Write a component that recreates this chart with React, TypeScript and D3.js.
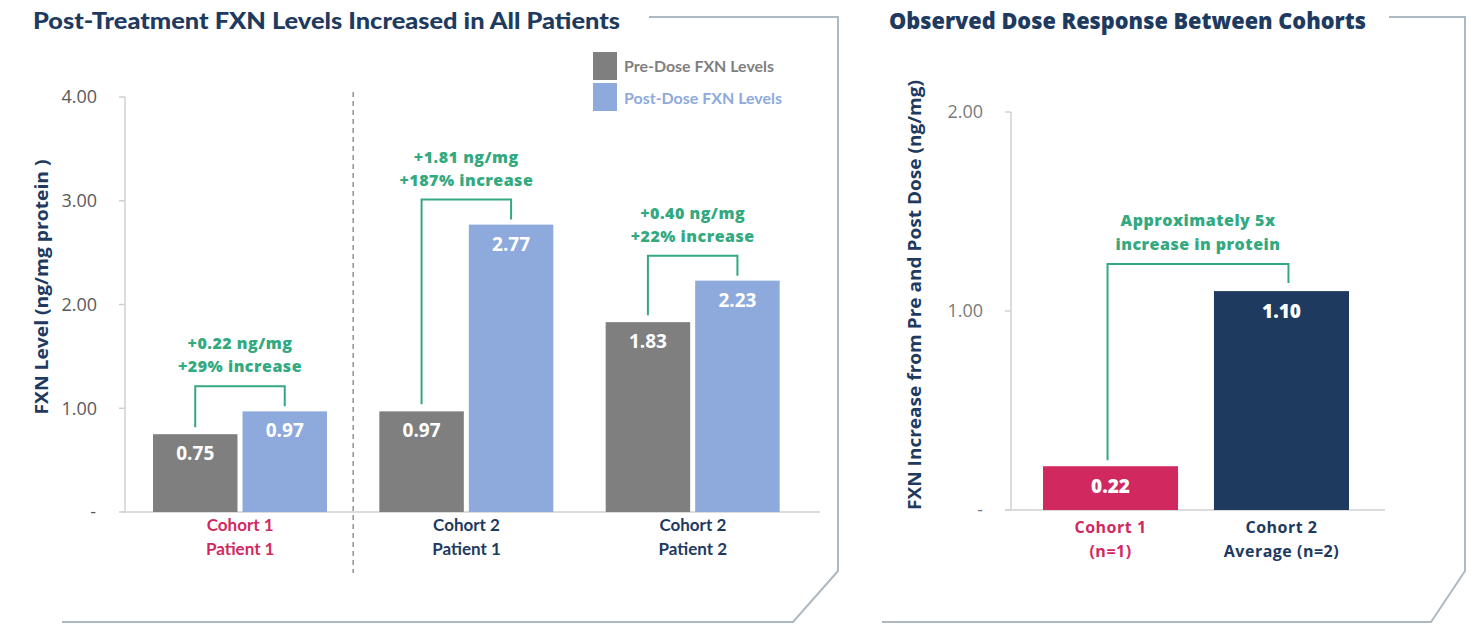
import * as d3 from "d3";

// left chart data
const patients = ["Cohort 1|Patient 1", "Cohort 2|Patient 1", "Cohort 2|Patient 2"];
const preDose = [0.75, 0.97, 1.83];
const postDose = [0.97, 2.77, 2.23];
const deltaLabels = ["+0.22 ng/mg", "+1.81 ng/mg", "+0.40 ng/mg"];
const pctLabels = ["+29% increase", "+187% increase", "+22% increase"];
const leftTicks = [4, 3, 2, 1, 0];

// right chart data
const cohorts = ["Cohort 1|(n=1)", "Cohort 2|Average (n=2)"];
const increase = [0.22, 1.1];
const rightTicks = [2, 1, 0];
const rightNote = ["Approximately 5x", "increase in protein"];

const NAVY = "#1e3a5f";
const CRIMSON = "#d1295f";
const GRAY = "#7f7f7f";
const BLUE = "#8eaadc";
const GREEN = "#33a97f";
const FRAME = "#adb9c3";
const AXIS = "#d0d0d0";
const SANS = "'Open Sans', Lato, sans-serif";
const COND = "Lato, 'Open Sans', sans-serif";

const fmt = d3.format(".2f");
const tickFmt = (v: number) => (v === 0 ? "-" : fmt(v));

const App = () => {
  // ---- left chart scales
  const yL = d3.scaleLinear().domain([0, 4]).range([512, 97]);
  const xL = d3.scaleBand().domain(patients).range([127, 806]).padding(0);
  const inner = d3.scaleBand().domain(["pre", "post"]).range([26, 200]).paddingInner(0.056);

  // ---- right chart scales
  const yR = d3.scaleLinear().domain([0, 2]).range([510, 112]);
  const xR = d3.scaleBand().domain(cohorts).range([1043, 1349]).paddingInner(0.21).paddingOuter(0);

  const divX = ((xL(patients[0]) as number) + inner("post")! + inner.bandwidth() + (xL(patients[1]) as number) + inner("pre")!) / 2;

  return (
    <svg width={1477} height={637} style={{ position: "absolute", left: 0, top: 0, background: "#fff" }}>
      {/* frames */}
      <path d="M649,17 H838 V571 L793,622 H62" fill="none" stroke={FRAME} strokeWidth={2} />
      <path d="M1389,17 H1465 V571 L1431,622 H882" fill="none" stroke={FRAME} strokeWidth={2} />

      {/* titles */}
      <text x={33} y={29} fontFamily={COND} fontWeight={900} fontSize={23} fill={NAVY} textLength={587} lengthAdjust="spacingAndGlyphs">
        Post-Treatment FXN Levels Increased in All Patients
      </text>
      <text x={889} y={29} fontFamily={SANS} fontWeight={800} fontSize={22} fill={NAVY} textLength={477} lengthAdjust="spacingAndGlyphs">
        Observed Dose Response Between Cohorts
      </text>

      {/* ===== LEFT CHART ===== */}
      <line x1={125} x2={125} y1={yL(4)} y2={yL(0)} stroke={AXIS} strokeWidth={1.5} />
      <line x1={122} x2={820} y1={yL(0)} y2={yL(0)} stroke="#dcdcdc" strokeWidth={2} />
      {leftTicks.map((t) => (
        <g key={t}>
          <line x1={119} x2={125} y1={yL(t)} y2={yL(t)} stroke={AXIS} strokeWidth={1.5} />
          <text x={t === 0 ? 96 : 97} y={yL(t)} dy="0.35em" textAnchor="end" fontFamily={SANS} fontSize={18} fill="#595959">
            {tickFmt(t)}
          </text>
        </g>
      ))}
      <text transform="translate(48,287) rotate(-90)" textAnchor="middle" fontFamily={SANS} fontWeight={700} fontSize={18} fill={NAVY} textLength={255} lengthAdjust="spacingAndGlyphs">
        FXN Level (ng/mg protein )
      </text>

      <line x1={divX} x2={divX} y1={92} y2={573} stroke={GRAY} strokeWidth={1.3} strokeDasharray="5,4" />

      {patients.map((p, i) => {
        const x0 = xL(p) as number;
        const preX = x0 + inner("pre")!;
        const postX = x0 + inner("post")!;
        const bw = inner.bandwidth();
        const top = yL(postDose[i]) - 25;
        const lx = preX + bw / 2;
        const rx = postX + bw / 2;
        const cx = (lx + rx) / 2;
        const [l1, l2] = p.split("|");
        const labColor = i === 0 ? CRIMSON : NAVY;
        return (
          <g key={p}>
            <rect x={preX} y={yL(preDose[i])} width={bw} height={yL(0) - yL(preDose[i])} fill={GRAY} />
            <rect x={postX} y={yL(postDose[i])} width={bw} height={yL(0) - yL(postDose[i])} fill={BLUE} />
            <text x={preX + bw / 2} y={yL(preDose[i]) + 26} textAnchor="middle" fontFamily={SANS} fontWeight={700} fontSize={19} fill="#fff">
              {fmt(preDose[i])}
            </text>
            <text x={postX + bw / 2} y={yL(postDose[i]) + 26} textAnchor="middle" fontFamily={SANS} fontWeight={700} fontSize={19} fill="#fff">
              {fmt(postDose[i])}
            </text>
            <path
              d={`M${lx},${yL(preDose[i]) - 7} V${top} H${rx} V${yL(postDose[i]) - 5}`}
              fill="none"
              stroke={GREEN}
              strokeWidth={2}
            />
            <text x={cx} y={top - 37} textAnchor="middle" fontFamily={SANS} fontWeight={800} fontSize={16} fill={GREEN} letterSpacing={0.5}>
              {deltaLabels[i]}
            </text>
            <text x={cx} y={top - 14} textAnchor="middle" fontFamily={SANS} fontWeight={800} fontSize={16} fill={GREEN} letterSpacing={0.5}>
              {pctLabels[i]}
            </text>
            <text x={x0 + xL.bandwidth() / 2} y={531} textAnchor="middle" fontFamily={COND} fontWeight={700} fontSize={17} fill={labColor}>
              {l1}
            </text>
            <text x={x0 + xL.bandwidth() / 2} y={555} textAnchor="middle" fontFamily={COND} fontWeight={700} fontSize={17} fill={labColor}>
              {l2}
            </text>
          </g>
        );
      })}

      {/* legend */}
      <rect x={593} y={52} width={24} height={28} fill={GRAY} />
      <rect x={593} y={83} width={24} height={28} fill={BLUE} />
      <text x={624} y={72} fontFamily={COND} fontWeight={700} fontSize={15} fill={GRAY} textLength={150} lengthAdjust="spacingAndGlyphs">
        Pre-Dose FXN Levels
      </text>
      <text x={624} y={104} fontFamily={COND} fontWeight={700} fontSize={15} fill={BLUE} textLength={158} lengthAdjust="spacingAndGlyphs">
        Post-Dose FXN Levels
      </text>

      {/* ===== RIGHT CHART ===== */}
      <line x1={1011} x2={1011} y1={yR(2)} y2={yR(0)} stroke={AXIS} strokeWidth={1.5} />
      <line x1={1005} x2={1385} y1={yR(0)} y2={yR(0)} stroke="#dcdcdc" strokeWidth={2} />
      {rightTicks.map((t) => (
        <g key={t}>
          <line x1={1005} x2={1011} y1={yR(t)} y2={yR(t)} stroke={AXIS} strokeWidth={1.5} />
          <text x={983} y={yR(t)} dy="0.35em" textAnchor="end" fontFamily={SANS} fontSize={18} fill="#7a7a7a">
            {tickFmt(t)}
          </text>
        </g>
      ))}
      <text transform="translate(921,295) rotate(-90)" textAnchor="middle" fontFamily={SANS} fontWeight={700} fontSize={18} fill={NAVY} textLength={430} lengthAdjust="spacingAndGlyphs">
        FXN Increase from Pre and Post Dose (ng/mg)
      </text>

      {cohorts.map((c, i) => {
        const x0 = xR(c) as number;
        const bw = xR.bandwidth();
        const [l1, l2] = c.split("|");
        const col = i === 0 ? CRIMSON : NAVY;
        return (
          <g key={c}>
            <rect x={x0} y={yR(increase[i])} width={bw} height={yR(0) - yR(increase[i])} fill={col} />
            <text x={x0 + bw / 2} y={yR(increase[i]) + 27} textAnchor="middle" fontFamily={SANS} fontWeight={800} fontSize={19} fill="#fff">
              {fmt(increase[i])}
            </text>
            <text x={x0 + bw / 2} y={533} textAnchor="middle" fontFamily={SANS} fontWeight={700} fontSize={16} fill={col} letterSpacing={0.5}>
              {l1}
            </text>
            <text x={x0 + bw / 2} y={557} textAnchor="middle" fontFamily={SANS} fontWeight={700} fontSize={16} fill={col} letterSpacing={0.5}>
              {l2}
            </text>
          </g>
        );
      })}
      {(() => {
        const lx = (xR(cohorts[0]) as number) + xR.bandwidth() / 2 - 3;
        const rx = (xR(cohorts[1]) as number) + xR.bandwidth() / 2 + 7;
        const top = yR(increase[1]) - 27;
        const cx = (lx + rx) / 2;
        return (
          <g>
            <path d={`M${lx},${yR(increase[0]) - 6} V${top} H${rx} V${yR(increase[1]) - 8}`} fill="none" stroke={GREEN} strokeWidth={2} />
            <text x={cx} y={226} textAnchor="middle" fontFamily={SANS} fontWeight={800} fontSize={16} fill={GREEN} letterSpacing={0.5}>
              {rightNote[0]}
            </text>
            <text x={cx} y={250} textAnchor="middle" fontFamily={SANS} fontWeight={800} fontSize={16} fill={GREEN} letterSpacing={0.5}>
              {rightNote[1]}
            </text>
          </g>
        );
      })()}
    </svg>
  );
};

export default App;
